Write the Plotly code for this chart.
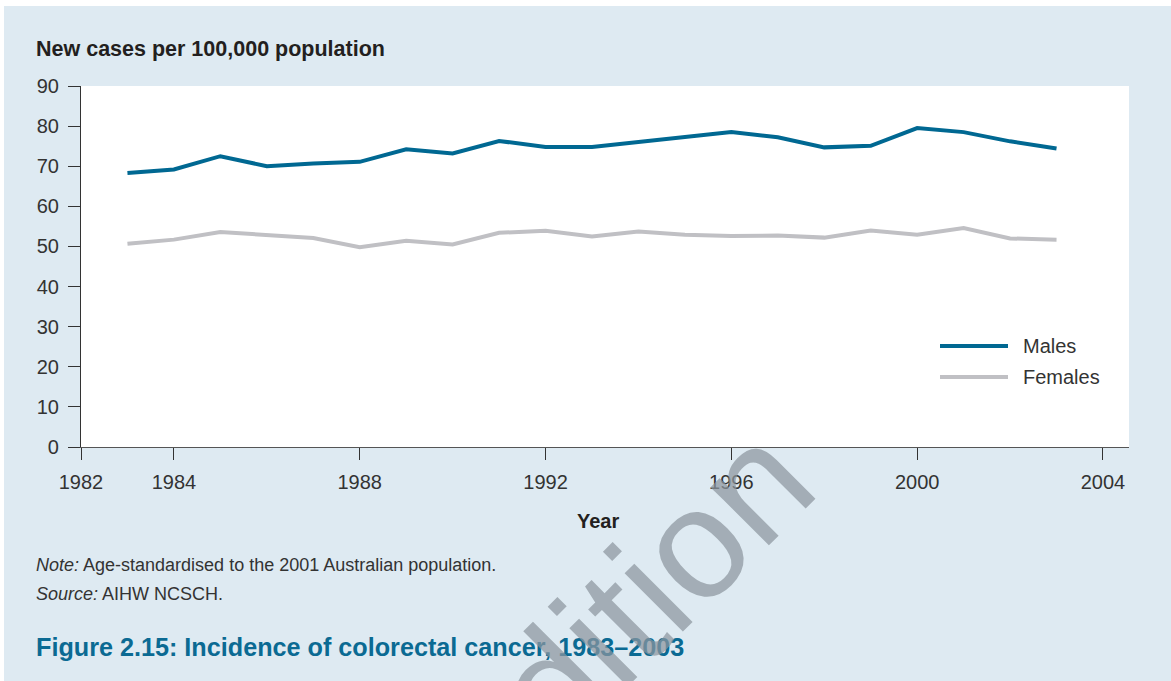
import plotly.graph_objects as go

# ---- data ----
years = list(range(1983, 2004))
males = [68.3, 69.2, 72.5, 70.0, 70.7, 71.1, 74.2, 73.2, 76.3, 74.8, 74.8,
         76.1, 77.2, 78.5, 77.2, 74.7, 75.1, 79.5, 78.5, 76.2, 74.4]
females = [50.7, 51.7, 53.6, 52.9, 52.1, 49.8, 51.4, 50.5, 53.4, 53.9, 52.5,
           53.7, 52.9, 52.6, 52.7, 52.2, 54.0, 52.9, 54.6, 52.0, 51.7]
series_names = ["Males", "Females"]
x_tickvals = [1982, 1984, 1988, 1992, 1996, 2000, 2004]
y_tickvals = list(range(0, 100, 10))

y_title = "New cases per 100,000 population"
x_title = "Year"
note_text = "<i>Note:</i> Age-standardised to the 2001 Australian population."
source_text = "<i>Source:</i> AIHW NCSCH."
fig_title = "Figure 2.15: Incidence of colorectal cancer, 1983–2003"
watermark = "edition"

# ---- styles ----
BG = "#deeaf2"
MALE_C = "#006892"
FEMALE_C = "#c0c0c4"
TXT = "#231f20"
TITLE_C = "#0b6a93"
FONT = "Liberation Sans, Arial, sans-serif"
colors = [MALE_C, FEMALE_C]

W, H = 1171, 681
L, R, T, B = 81, 42, 86, 234
pw, ph = W - L - R, H - T - B


def px_x(p):
    return (p - L) / pw


def px_y(p):
    return (H - B - p) / ph


fig = go.Figure()
for name, vals, c in zip(series_names, [males, females], colors):
    fig.add_trace(go.Scatter(x=years, y=vals, mode="lines", name=name,
                             line=dict(color=c, width=4), showlegend=False))

fig.update_layout(
    width=W, height=H,
    margin=dict(l=L, r=R, t=T, b=B, pad=0),
    paper_bgcolor=BG, plot_bgcolor="white",
    font=dict(family=FONT, color=TXT, size=20),
    xaxis=dict(range=[1982, 2004.56], tickmode="array", tickvals=x_tickvals,
               showline=True, linecolor="#555555", linewidth=1.2,
               ticks="outside", ticklen=12, tickcolor="#333333", tickwidth=1,
               showgrid=False, zeroline=False, ticklabelstandoff=5,
               tickfont=dict(size=20, color="#333333")),
    yaxis=dict(range=[0, 90], tickmode="array", tickvals=y_tickvals,
               showline=True, linecolor="#333333", linewidth=1.2,
               ticks="outside", ticklen=12, tickcolor="#333333", tickwidth=1,
               showgrid=False, zeroline=False, ticklabelstandoff=5,
               tickfont=dict(size=20, color="#333333")),
)

shapes = [
    # white outer border strips (top and left)
    dict(type="rect", xref="paper", yref="paper", x0=px_x(-5), x1=px_x(W + 5),
         y0=px_y(6), y1=px_y(-5), fillcolor="white", line_width=0, layer="below"),
    dict(type="rect", xref="paper", yref="paper", x0=px_x(-5), x1=px_x(4),
         y0=px_y(H + 5), y1=px_y(-5), fillcolor="white", line_width=0, layer="below"),
]
# manual legend keys
legend_rows = [346, 377]
for name, c, yy in zip(series_names, colors, legend_rows):
    shapes.append(dict(type="line", xref="paper", yref="paper",
                       x0=px_x(940), x1=px_x(1008), y0=px_y(yy), y1=px_y(yy),
                       line=dict(color=c, width=4)))
fig.update_layout(shapes=shapes)

ann = []
for name, yy in zip(series_names, legend_rows):
    ann.append(dict(text=name, xref="paper", yref="paper", x=px_x(1021), y=px_y(yy),
                    xanchor="left", yanchor="middle", showarrow=False,
                    font=dict(size=20, color="#333333")))
ann += [
    dict(text="<b>" + y_title + "</b>", xref="paper", yref="paper",
         x=px_x(34), y=px_y(49), xanchor="left", yanchor="middle", showarrow=False,
         font=dict(size=21.5, color=TXT)),
    dict(text="<b>" + x_title + "</b>", xref="paper", yref="paper",
         x=px_x(598), y=px_y(521), xanchor="center", yanchor="middle", showarrow=False,
         font=dict(size=20, color=TXT)),
    dict(text=note_text, xref="paper", yref="paper",
         x=px_x(34), y=px_y(565), xanchor="left", yanchor="middle", showarrow=False,
         font=dict(size=18, color="#333333")),
    dict(text=source_text, xref="paper", yref="paper",
         x=px_x(34), y=px_y(594), xanchor="left", yanchor="middle", showarrow=False,
         font=dict(size=18, color="#333333")),
    dict(text="<b>" + fig_title + "</b>", xref="paper", yref="paper",
         x=px_x(34), y=px_y(647), xanchor="left", yanchor="middle", showarrow=False,
         font=dict(size=25.2, color=TITLE_C)),
    dict(text=watermark, xref="paper", yref="paper",
         x=px_x(622), y=px_y(616), xanchor="center", yanchor="middle", showarrow=False,
         textangle=-45, font=dict(size=156, color="rgba(140,150,158,0.72)")),
]
fig.update_layout(annotations=ann)

fig.write_html("out.html", config={"displayModeBar": False},
               post_script="document.body.style.margin='0';document.body.style.overflow='hidden';")
